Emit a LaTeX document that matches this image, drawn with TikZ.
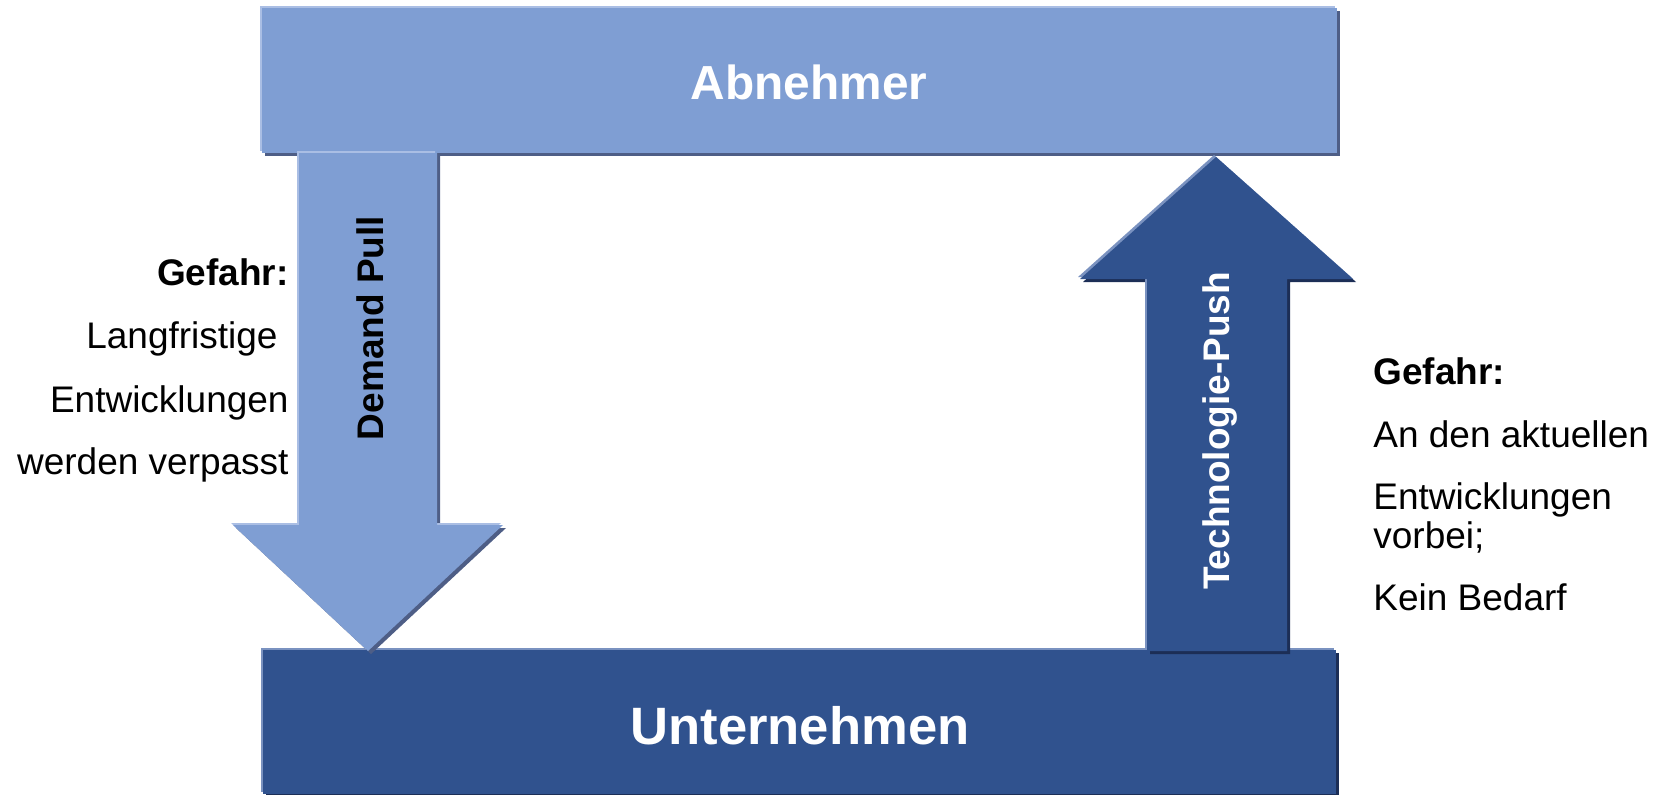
\documentclass[tikz,border=0pt]{standalone}
\usepackage{fontspec}
\setmainfont{Liberation Sans}
\definecolor{lightblue}{RGB}{127,158,211}
\definecolor{darkblue}{RGB}{48,82,142}
\definecolor{lightedge}{RGB}{170,190,228}
\definecolor{lightshadow}{RGB}{78,94,134}
\definecolor{darkedge}{RGB}{122,146,192}
\definecolor{darkshadow}{RGB}{28,46,86}
% a filled shape with a soft highlight (top left) and a shadow (bottom right)
\newcommand\layeredshape[4]{%
  \fill[#3, shift={(3,3)}] #4;
  \fill[#2, shift={(-2,-2)}] #4;
  \fill[#1] #4;}
\newcommand\txtsize{\fontsize{18.5}{22}\selectfont}
\tikzset{
  every node/.style={inner sep=0pt},
  bartext/.style={anchor=base, text=white},
  sidetext/.style={text=black},
  boldside/.style={font=\txtsize\bfseries},
}
\begin{document}
\begin{tikzpicture}[x=0.5pt, y=-0.5pt, font=\txtsize]
\useasboundingbox (0,0) rectangle (1658,794);
% customer bar
\layeredshape{lightblue}{lightedge}{lightshadow}{(262,8) rectangle (1337,153)}
% company bar
\layeredshape{darkblue}{darkedge}{darkshadow}{(263,650) rectangle (1336,794)}
% demand pull arrow (down)
\layeredshape{lightblue}{lightedge}{lightshadow}{(299,153) -- (437,153) -- (437,525) -- (503,525) -- (368,651) -- (233,525) -- (299,525) -- cycle}
% technology push arrow (up)
\layeredshape{darkblue}{darkedge}{darkshadow}{(1147,651) -- (1147,279) -- (1080,279) -- (1216,157) -- (1353,279) -- (1287,279) -- (1287,651) -- cycle}

\node[bartext, font=\fontsize{23.9}{28}\selectfont\bfseries] (abnehmer) at (809,99) {Abnehmer};
\node[bartext, font=\fontsize{26.3}{31}\selectfont\bfseries] (unternehmen) at (800,744) {Unternehmen};
\node[rotate=90, boldside, text=black] (demand) at (370,328) {Demand Pull};
\node[rotate=90, boldside, text=white] (push) at (1220,431) {Technologie-Push};

% left note
\node[sidetext, anchor=base east, boldside] (lg) at (289,285) {Gefahr:};
\node[sidetext, anchor=base east] (l1) at (278,348) {Langfristige};
\node[sidetext, anchor=base east] (l2) at (289,412) {Entwicklungen};
\node[sidetext, anchor=base east] (l3) at (289,474) {werden verpasst};

% right note
\node[sidetext, anchor=base west, boldside] (rg) at (1373,384) {Gefahr:};
\node[sidetext, anchor=base west] (r1) at (1373,447) {An den aktuellen};
\node[sidetext, anchor=base west] (r2) at (1373,509) {Entwicklungen};
\node[sidetext, anchor=base west] (r3) at (1373,548) {vorbei;};
\node[sidetext, anchor=base west] (r4) at (1373,610) {Kein Bedarf};
\end{tikzpicture}
\end{document}
